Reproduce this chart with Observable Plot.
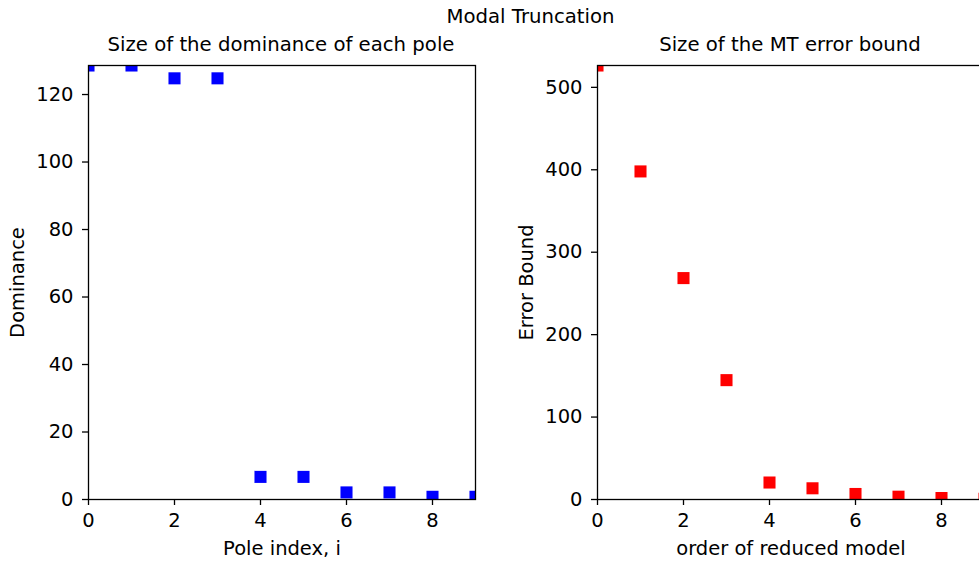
<!DOCTYPE html>
<html>
<head>
<meta charset="utf-8">
<script src="https://cdn.jsdelivr.net/npm/d3@7"></script>
<script src="https://cdn.jsdelivr.net/npm/@observablehq/plot@0.6"></script>
<style>
  html, body { margin: 0; padding: 0; background: #fff; overflow: hidden; }
  #wrap { position: relative; width: 979px; height: 561px; overflow: hidden; font-family: "DejaVu Sans", sans-serif; color: #000; }
  .t { position: absolute; font-size: 19.7px; line-height: 22px; text-align: center; white-space: nowrap; }
  .panel { position: absolute; top: 0; width: 490px; height: 561px; }
  .panel svg { max-width: none !important; }
</style>
</head>
<body>
<div id="wrap">
  <div class="t" style="left:0;width:1061px;top:6px;">Modal Truncation</div>
  <div class="t" style="left:81px;width:400px;top:34px;">Size of the dominance of each pole</div>
  <div class="t" style="left:590px;width:400px;top:34px;">Size of the MT error bound</div>
  <div class="panel" id="left" style="left:0;"></div>
  <div class="panel" id="right" style="left:509px;"></div>
</div>
<script>
// Left panel data
const poleIndex = [0, 1, 2, 3, 4, 5, 6, 7, 8, 9];
const dominance = [128.6, 128.6, 124.8, 124.8, 6.7, 6.7, 2.1, 2.1, 0.8, 0.8];
// Right panel data
const reducedOrder = [0, 1, 2, 3, 4, 5, 6, 7, 8, 9];
const errorBound = [526.5, 398, 268.6, 144.8, 20.6, 13.6, 6.7, 3.4, 1.8, 0.9];
// Tick labels
const xTicks = [0, 2, 4, 6, 8];
const leftYTicks = [0, 20, 40, 60, 80, 100, 120];
const rightYTicks = [0, 100, 200, 300, 400, 500];

function panel(xs, ys, yMax, yTicks, color, xLabel, yLabel) {
  const data = xs.map((x, i) => ({x, y: ys[i]}));
  return Plot.plot({
    width: 490,
    height: 561,
    marginLeft: 88,
    marginRight: 15,
    marginTop: 65,
    marginBottom: 62,
    style: {fontFamily: "DejaVu Sans, sans-serif", fontSize: "19.5px", color: "#000", background: "transparent", overflow: "visible", maxWidth: "none"},
    x: {domain: [0, 9]},
    y: {domain: [0, yMax]},
    marks: [
      Plot.dot(data, {x: "x", y: "y", symbol: "square", r: 6.8, fill: color, stroke: "none", clip: true}),
      Plot.frame({stroke: "#000", strokeWidth: 1.3}),
      Plot.axisX({ticks: xTicks, tickFormat: d => String(d), tickSize: 6, tickPadding: 8, strokeWidth: 1.3,
        label: xLabel, labelAnchor: "center", labelOffset: 55, labelArrow: "none"}),
      Plot.axisY({ticks: yTicks, tickFormat: d => String(d), tickSize: 6, tickPadding: 9, strokeWidth: 1.3,
        label: yLabel, labelAnchor: "center", labelOffset: 78, labelArrow: "none"})
    ]
  });
}

document.getElementById("left").append(
  panel(poleIndex, dominance, 128.6, leftYTicks, "blue", "Pole index, i", "Dominance"));
document.getElementById("right").append(
  panel(reducedOrder, errorBound, 526.5, rightYTicks, "red", "order of reduced model", "Error Bound"));
</script>
</body>
</html>
